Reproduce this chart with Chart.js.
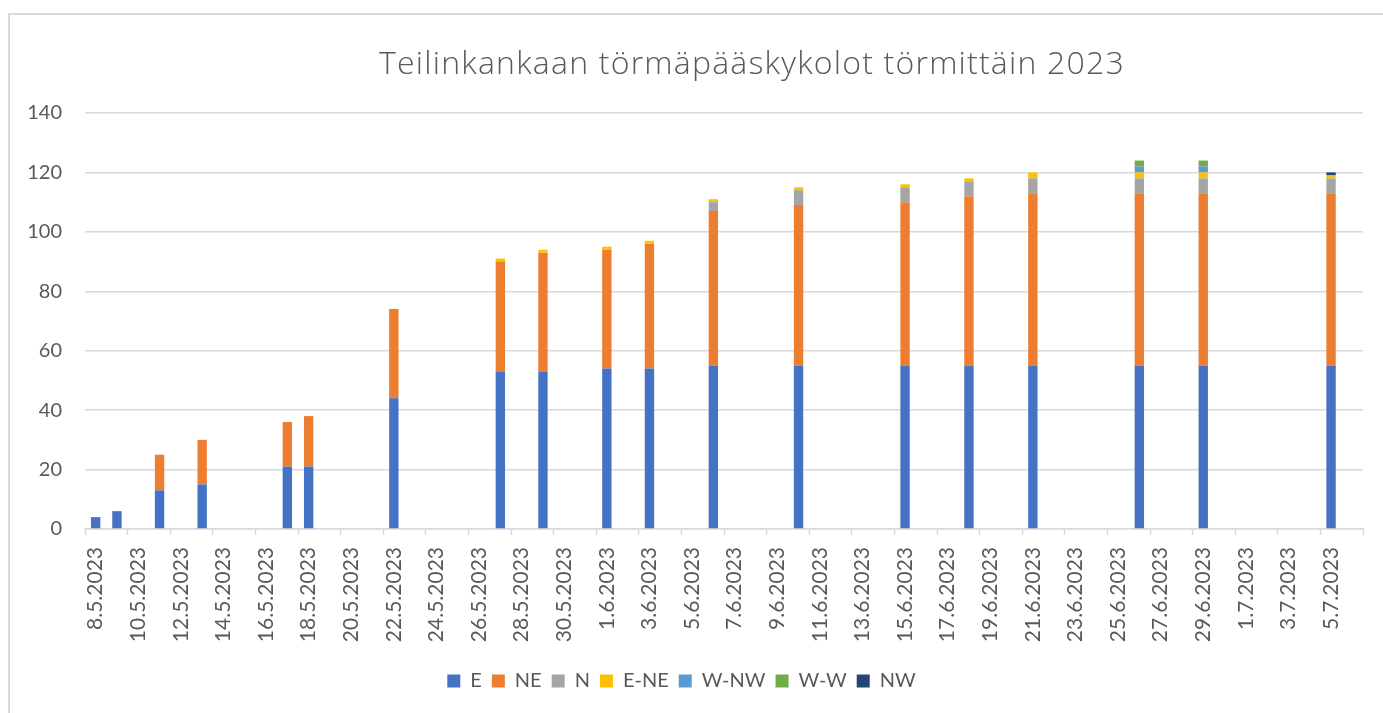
<!DOCTYPE html>
<html>
<head>
<meta charset="UTF-8">
<title>Teilinkankaan törmäpääskykolot törmittäin 2023</title>
<script src="https://cdn.jsdelivr.net/npm/chart.js"></script>
<style>
  html, body { margin: 0; padding: 0; background: #fff; }
  .frame { position: absolute; left: 8px; top: 13px; width: 1400px; height: 720px;
           border-left: 2px solid #d9d9d9; border-top: 2px solid #d9d9d9; }
  #chart { position: absolute; left: 0; top: 0; }
</style>
</head>
<body>
<div class="frame"></div>
<canvas id="chart" width="1383" height="713"></canvas>
<script>
// Päivämääräakseli (joka päivä 8.5. - 6.7.), nimi näkyy joka toisessa
const days = [
  '8.5.2023','9.5.2023','10.5.2023','11.5.2023','12.5.2023','13.5.2023','14.5.2023','15.5.2023',
  '16.5.2023','17.5.2023','18.5.2023','19.5.2023','20.5.2023','21.5.2023','22.5.2023','23.5.2023',
  '24.5.2023','25.5.2023','26.5.2023','27.5.2023','28.5.2023','29.5.2023','30.5.2023','31.5.2023',
  '1.6.2023','2.6.2023','3.6.2023','4.6.2023','5.6.2023','6.6.2023','7.6.2023','8.6.2023',
  '9.6.2023','10.6.2023','11.6.2023','12.6.2023','13.6.2023','14.6.2023','15.6.2023','16.6.2023',
  '17.6.2023','18.6.2023','19.6.2023','20.6.2023','21.6.2023','22.6.2023','23.6.2023','24.6.2023',
  '25.6.2023','26.6.2023','27.6.2023','28.6.2023','29.6.2023','30.6.2023',
  '1.7.2023','2.7.2023','3.7.2023','4.7.2023','5.7.2023','6.7.2023'
];

// Laskentapäivät
const countDates = [
  '8.5.2023','9.5.2023','11.5.2023','13.5.2023','17.5.2023','18.5.2023','22.5.2023',
  '27.5.2023','29.5.2023','1.6.2023','3.6.2023','6.6.2023','10.6.2023','15.6.2023',
  '18.6.2023','21.6.2023','26.6.2023','29.6.2023','5.7.2023'
];

// Kolot törmittäin
const E    = [4, 6, 13, 15, 21, 21, 44, 53, 53, 54, 54, 55, 55, 55, 55, 55, 55, 55, 55];
const NE   = [null, null, 12, 15, 15, 17, 30, 37, 40, 40, 42, 52, 54, 55, 57, 58, 58, 58, 58];
const N    = [null, null, null, null, null, null, null, null, null, null, null, 3, 5, 5, 5, 5, 5, 5, 5];
const E_NE = [null, null, null, null, null, null, null, 1, 1, 1, 1, 1, 1, 1, 1, 2, 2, 2, 1];
const W_NW = [null, null, null, null, null, null, null, null, null, null, null, null, null, null, null, null, 2, 2, null];
const W_W  = [null, null, null, null, null, null, null, null, null, null, null, null, null, null, null, null, 2, 2, null];
const NW   = [null, null, null, null, null, null, null, null, null, null, null, null, null, null, null, null, null, null, 1];

const yTicks = [0, 20, 40, 60, 80, 100, 120, 140];
const chartTitle = 'Teilinkankaan törmäpääskykolot törmittäin 2023';

const textColor = '#595959';
const gridColor = '#d9d9d9';
const font = 'Lato, "Open Sans", sans-serif';

function series(label, values, color) {
  return {
    label: label,
    data: countDates.map((d, i) => ({ x: d, y: values[i] })),
    backgroundColor: color,
    borderWidth: 0,
    barPercentage: 0.44,
    categoryPercentage: 1
  };
}

// Otsikko piirretään itse, jotta sen keskikohta osuu samaan kohtaan kuin Excelissä
const titlePlugin = {
  id: 'excelTitle',
  afterDraw(chart) {
    const c = chart.ctx;
    c.save();
    c.font = '300 32px "Open Sans", sans-serif';
    c.letterSpacing = '1.2px';
    c.fillStyle = textColor;
    c.textAlign = 'center';
    c.textBaseline = 'alphabetic';
    c.fillText(chartTitle, 752, 74);
    c.restore();
  }
};

const ctx = document.getElementById('chart').getContext('2d');
new Chart(ctx, {
  type: 'bar',
  data: {
    labels: days,
    datasets: [
      series('E', E, '#4472C4'),
      series('NE', NE, '#ED7D31'),
      series('N', N, '#A5A5A5'),
      series('E-NE', E_NE, '#FFC000'),
      series('W-NW', W_NW, '#5B9BD5'),
      series('W-W', W_W, '#70AD47'),
      series('NW', NW, '#264478')
    ]
  },
  options: {
    responsive: false,
    animation: false,
    layout: { padding: { top: 113, right: 20, bottom: 12, left: 0 } },
    scales: {
      x: {
        stacked: true,
        offset: true,
        afterFit(scale) {
          scale.height = 132;
          scale.paddingLeft = 0;
          scale.paddingRight = 0;
        },
        grid: {
          offset: true,
          drawOnChartArea: false,
          drawTicks: true,
          tickLength: 6,
          tickWidth: 1.5,
          tickColor: (c) => (c.index % 2 ? 'rgba(0,0,0,0)' : gridColor)
        },
        border: { display: true, color: gridColor, width: 1.5 },
        ticks: {
          autoSkip: false,
          minRotation: 90,
          maxRotation: 90,
          padding: 12,
          color: textColor,
          font: { family: font, size: 21 },
          callback: function (value, index) {
            return index % 2 ? '' : this.getLabelForValue(value);
          }
        }
      },
      y: {
        stacked: true,
        min: 0,
        max: 140,
        afterFit(scale) { scale.width = 85; },
        afterBuildTicks(scale) { scale.ticks = yTicks.map(v => ({ value: v })); },
        grid: { color: gridColor, lineWidth: 1.5, drawTicks: false },
        border: { display: false },
        ticks: {
          padding: 23,
          color: textColor,
          font: { family: font, size: 20 }
        }
      }
    },
    plugins: {
      title: { display: false },
      tooltip: { enabled: false },
      legend: {
        position: 'bottom',
        labels: {
          boxWidth: 13,
          boxHeight: 13,
          padding: 10,
          color: textColor,
          font: { family: font, size: 20 }
        }
      }
    }
  },
  plugins: [titlePlugin]
});
</script>
</body>
</html>
